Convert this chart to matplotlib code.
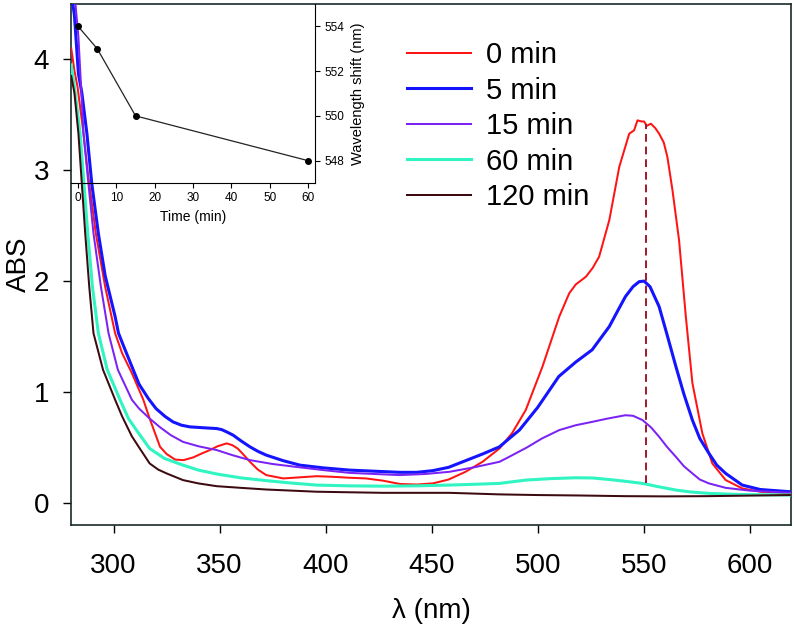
import matplotlib
matplotlib.use("Agg")
import matplotlib.pyplot as plt

plt.rcParams['font.family'] = ['Liberation Sans', 'DejaVu Sans']

# UV-vis spectra (wavelength in nm, absorbance)
wl_0 = [280, 281.5, 283, 285.8, 288, 291.6, 296, 300.7, 304, 308.6, 314, 317, 319.5, 321.9,
        325, 329, 333, 337.6, 341, 345.4, 349, 353.3, 356, 358.5, 361, 364.3, 368, 372,
        380, 388, 395.7, 403, 411.3, 419, 427, 435, 443, 450.6, 458, 466, 474, 482,
        488, 494.4, 502.3, 510.2, 514.9, 518, 522.8, 526, 529, 533.8, 538.5, 543.2,
        545.5, 547.1, 549, 550.2, 551.5, 553.4, 555.5, 557.3, 559.5, 561.2, 563.6,
        566.7, 569.9, 573, 577.7, 582.4, 588.7, 596.5, 605, 619]
abs_0 = [4.1, 3.9, 3.75, 3.33, 2.95, 2.43, 1.95, 1.53, 1.35, 1.17, 0.93, 0.76, 0.63, 0.505,
         0.44, 0.39, 0.385, 0.41, 0.44, 0.476, 0.51, 0.536, 0.52, 0.49, 0.44, 0.37, 0.3, 0.25,
         0.22, 0.23, 0.24, 0.235, 0.226, 0.22, 0.2, 0.17, 0.165, 0.175, 0.21, 0.28, 0.37, 0.49,
         0.63, 0.837, 1.23, 1.68, 1.89, 1.97, 2.04, 2.12, 2.22, 2.55, 3.03, 3.33,
         3.36, 3.45, 3.44, 3.44, 3.40, 3.42, 3.38, 3.33, 3.25, 3.12, 2.82,
         2.37, 1.68, 1.08, 0.626, 0.355, 0.205, 0.13, 0.1, 0.085]

wl_5 = [280, 281.5, 283.4, 285, 287.4, 289.7, 292.8, 296, 300.7, 302.3, 305, 308.6, 312,
        316.4, 320, 324.2, 328, 332, 336, 340, 344, 348.6, 351, 353.3, 356.4, 360,
        364.3, 368, 372, 380, 387.8, 399, 411.3, 423, 435, 443, 450.5, 458, 466, 474,
        482, 486.6, 491.4, 500, 510, 518, 525.7, 533.8, 538, 541.4, 545, 547.9, 550.2,
        553, 557.3, 561, 565.2, 569, 573, 576.5, 580.8, 584.5, 588.7, 596.5, 605, 619]
abs_5 = [4.6, 4.4, 3.87, 3.7, 3.33, 2.88, 2.43, 2.05, 1.68, 1.53, 1.4, 1.23, 1.07,
         0.94, 0.85, 0.78, 0.73, 0.70, 0.685, 0.68, 0.675, 0.67, 0.66, 0.64, 0.61, 0.56,
         0.505, 0.465, 0.43, 0.38, 0.34, 0.315, 0.295, 0.285, 0.275, 0.275, 0.29, 0.32, 0.38, 0.44,
         0.505, 0.58, 0.656, 0.86, 1.14, 1.27, 1.38, 1.59, 1.74, 1.86, 1.95, 1.995, 2.0,
         1.95, 1.77, 1.52, 1.23, 0.98, 0.746, 0.58, 0.446, 0.34, 0.265, 0.16, 0.12, 0.1]

wl_15 = [280, 282, 283.4, 285.8, 288, 290.5, 294, 297.6, 302, 308.6, 312, 317, 322, 327,
         332.7, 340, 348.6, 356, 364.3, 375, 387.8, 399, 411.3, 423, 435, 447, 458.5,
         470, 482, 486.6, 495, 502, 510.2, 518, 525.7, 533, 541.4, 545, 549.5, 553.5,
         557.3, 561, 565.2, 569, 573, 576.5, 580.8, 588.7, 600, 619]
abs_15 = [4.6, 4.5, 4.2, 3.33, 2.9, 2.43, 1.95, 1.53, 1.2, 0.93, 0.85, 0.76, 0.68, 0.61,
          0.55, 0.51, 0.476, 0.43, 0.385, 0.35, 0.32, 0.295, 0.27, 0.26, 0.25, 0.26, 0.28,
          0.32, 0.37, 0.415, 0.5, 0.58, 0.656, 0.7, 0.73, 0.76, 0.79, 0.785, 0.746, 0.68,
          0.596, 0.505, 0.415, 0.33, 0.265, 0.21, 0.175, 0.135, 0.11, 0.09]

wl_60 = [280, 281.5, 284.2, 287.8, 290, 292.8, 297, 303, 307, 311.7, 317, 324, 332.7, 340,
         348.6, 360, 372, 384, 395.7, 411, 427, 443, 458.5, 470, 482, 494.4, 506, 518,
         526, 533.8, 541, 549.5, 557, 565.2, 572, 580.8, 595, 619]
abs_60 = [3.95, 3.75, 3.33, 2.43, 1.95, 1.53, 1.2, 0.93, 0.76, 0.63, 0.49, 0.4, 0.34, 0.295,
          0.26, 0.225, 0.2, 0.178, 0.16, 0.153, 0.15, 0.153, 0.16, 0.167, 0.175, 0.205, 0.218, 0.226,
          0.224, 0.21, 0.195, 0.175, 0.145, 0.115, 0.098, 0.085, 0.075, 0.07]

wl_120 = [280, 281.5, 283.4, 286.6, 288.5, 290.5, 295, 300.7, 304, 308.6, 312, 317, 321,
          325, 332.7, 340, 348.6, 360, 372, 395.7, 427, 458.5, 482, 500, 520, 541, 560,
          580, 600, 619]
abs_120 = [3.85, 3.7, 3.33, 2.43, 1.95, 1.53, 1.2, 0.93, 0.78, 0.6, 0.5, 0.355, 0.3,
           0.265, 0.205, 0.175, 0.15, 0.135, 0.12, 0.1, 0.09, 0.09, 0.076, 0.07, 0.066, 0.06, 0.058,
           0.06, 0.065, 0.07]

labels = ['0 min', '5 min', '15 min', '60 min', '120 min']
colors = ['#ff1414', '#1414ff', '#7b22f5', '#30f5c2', '#3c0a10']
widths = [1.45, 2.2, 1.45, 2.2, 1.45]

# dashed marker of the absorption maximum
peak_wl = 551
peak_lo, peak_hi = 0.18, 3.42

# inset: wavelength of the maximum vs. time
time_min = [0, 5, 15, 60]
shift_nm = [554, 553, 550, 548]

fig = plt.figure(figsize=(7.94, 6.3), dpi=100)
ax = fig.add_axes([0.0897, 0.1667, 0.9065, 0.827])

series = [(wl_0, abs_0), (wl_5, abs_5), (wl_15, abs_15), (wl_60, abs_60), (wl_120, abs_120)]
for (x, y), lab, c, lw in zip(series, labels, colors, widths):
    ax.plot(x, y, color=c, lw=lw, label=lab, zorder=3)

ax.vlines(peak_wl, peak_lo, peak_hi, colors='#a0182c', linestyles=(0, (4, 2.5)), lw=1.4, zorder=4)

ax.set_xlim(280, 619.5)
ax.set_ylim(-0.2, 4.5)
ax.set_xticks([300, 350, 400, 450, 500, 550, 600])
ax.set_yticks([0, 1, 2, 3, 4])
ax.tick_params(direction='out', length=6, width=1, labelsize=20)
ax.tick_params(axis='x', pad=14)
ax.tick_params(axis='y', pad=10)
ax.set_xlabel('λ (nm)', fontsize=20, labelpad=14)
ax.set_ylabel('ABS', fontsize=20, labelpad=1)
for s in ax.spines.values():
    s.set_linewidth(1.2)
    s.set_color('#1a2a2a')

ax.legend(loc='upper left', bbox_to_anchor=(0.5126, 0.935), bbox_transform=fig.transFigure,
          frameon=False, fontsize=21, handlelength=2.2, handletextpad=0.5,
          labelspacing=0.26, borderpad=0, borderaxespad=0)

# inset
ins = fig.add_axes([0.090, 0.7095, 0.307, 0.2842])
ins.patch.set_alpha(0)
ins.plot(time_min, shift_nm, color='#222222', lw=0.9, marker='o', ms=4, mfc='black', mec='black')
ins.set_xlim(-1.73, 61.9)
ins.set_ylim(547, 555)
ins.set_xticks([0, 10, 20, 30, 40, 50, 60])
ins.set_yticks([548, 550, 552, 554])
ins.yaxis.tick_right()
ins.yaxis.set_label_position('right')
ins.spines['left'].set_visible(False)
ins.spines['top'].set_visible(False)
ins.tick_params(direction='out', length=3.5, width=0.8, labelsize=8.5, pad=3)
ins.set_xlabel('Time (min)', fontsize=10, labelpad=4)
ins.set_ylabel('Wavelength shift (nm)', fontsize=10.5, labelpad=5)

fig.savefig('out.png', dpi=100)
